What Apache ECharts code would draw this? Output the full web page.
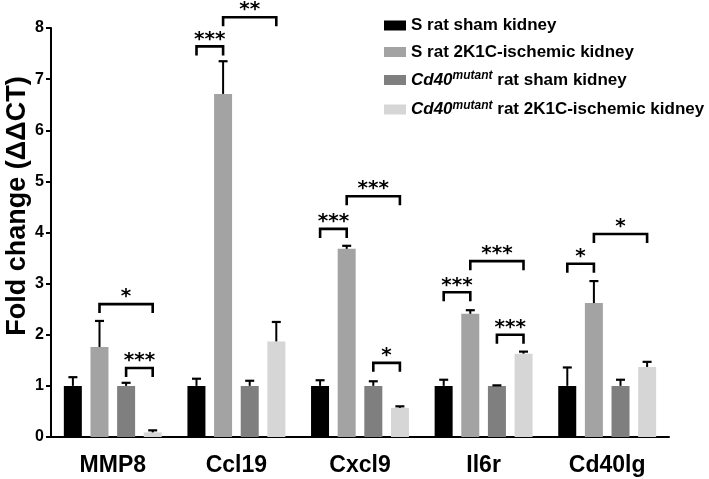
<!DOCTYPE html>
<html><head><meta charset="utf-8">
<script src="https://cdn.jsdelivr.net/npm/echarts@6/dist/echarts.min.js"></script>
<style>html,body{margin:0;padding:0;background:#fff}#c{width:709px;height:479px}</style>
</head><body><div id="c"></div>
<script>
// ---- data ----
const categories = ['MMP8', 'Ccl19', 'Cxcl9', 'Il6r', 'Cd40lg'];
const seriesNames = ['S rat sham kidney', 'S rat 2K1C-ischemic kidney', 'Cd40mutant rat sham kidney', 'Cd40mutant rat 2K1C-ischemic kidney'];
const shamS   = [1.00, 1.00, 1.00, 1.00, 1.00];
const ischS   = [1.76, 6.71, 3.68, 2.41, 2.62];
const shamMut = [1.00, 1.00, 1.00, 1.00, 1.00];
const ischMut = [0.09, 1.87, 0.57, 1.63, 1.37];
const errShamS   = [0.17, 0.14, 0.11, 0.12, 0.36];
const errIschS   = [0.51, 0.64, 0.06, 0.07, 0.43];
const errShamMut = [0.06, 0.10, 0.09, 0.01, 0.12];
const errIschMut = [0.04, 0.38, 0.03, 0.04, 0.10];
const yTickLabels = ['0', '1', '2', '3', '4', '5', '6', '7', '8'];
// significance brackets
const sigCategory = [0, 0, 1, 1, 2, 2, 2, 3, 3, 3, 4, 4];
const sigFrom     = [1, 2, 0, 1, 0, 1, 2, 0, 1, 2, 0, 1];
const sigTo       = [3, 3, 1, 3, 1, 3, 3, 1, 3, 3, 1, 3];
const sigHeight   = [2.60, 1.35, 7.64, 8.21, 4.07, 4.71, 1.45, 2.83, 3.44, 2.00, 3.39, 3.97];
const sigLabel    = ['*', '***', '***', '**', '***', '***', '*', '***', '***', '***', '*', '*'];

// ---- rendering ----
const values = [shamS, ischS, shamMut, ischMut];
const errors = [errShamS, errIschS, errShamMut, errIschMut];
const colors = ['#000000', '#a3a3a3', '#7f7f7f', '#d6d6d6'];
const BAR_W = 18, BAR_STEP = 26.6;
const FONT = '"Liberation Sans", Arial, sans-serif';

const barSeries = values.map((v, i) => ({
  type: 'bar', name: seriesNames[i], data: v, barWidth: BAR_W, barGap: '48%',
  itemStyle: { color: colors[i] }, z: 2
}));

const errData = [];
values.forEach((v, s) => v.forEach((val, c) => errData.push([c, val, errors[s][c], s])));

const errSeries = {
  type: 'custom', name: 'err', data: errData, z: 5, clip: false, silent: true,
  renderItem: (params, api) => {
    const c = api.value(0), v = api.value(1), e = api.value(2), s = api.value(3);
    const p0 = api.coord([c, v]);
    const p1 = api.coord([c, v + e]);
    const x = p0[0] + (s - 1.5) * BAR_STEP;
    return { type: 'group', children: [
      { type: 'line', shape: { x1: x, y1: p0[1], x2: x, y2: p1[1] }, style: { stroke: '#000', lineWidth: 2 } },
      { type: 'line', shape: { x1: x - 4.5, y1: p1[1], x2: x + 4.5, y2: p1[1] }, style: { stroke: '#000', lineWidth: 2.2 } }
    ]};
  }
};

const sigData = sigCategory.map((c, i) => [c, sigFrom[i], sigTo[i], sigHeight[i], i]);
const sigSeries = {
  type: 'custom', name: 'sig', data: sigData, z: 6, clip: false, silent: true,
  renderItem: (params, api) => {
    const c = api.value(0), f = api.value(1), t = api.value(2), h = api.value(3), idx = api.value(4);
    const p = api.coord([c, h]);
    const x1 = p[0] + (f - 1.5) * BAR_STEP;
    const x2 = p[0] + (t - 1.5) * BAR_STEP;
    const y = p[1], leg = 9;
    return { type: 'group', children: [
      { type: 'polyline', shape: { points: [[x1, y + leg], [x1, y], [x2, y], [x2, y + leg]] },
        style: { stroke: '#000', lineWidth: 2.6, fill: null } },
      { type: 'text', style: { text: sigLabel[idx], x: (x1 + x2) / 2, y: y + 3, align: 'center', verticalAlign: 'bottom',
        font: 'bold 20px "DejaVu Sans", sans-serif', fill: '#000' } }
    ]};
  }
};

const chart = echarts.init(document.getElementById('c'), null, { renderer: 'canvas' });
chart.setOption({
  animation: false,
  backgroundColor: '#fff',
  grid: { left: 51, right: 40, top: 28, bottom: 42, containLabel: false },
  legend: {
    data: seriesNames, orient: 'vertical', left: 379, top: 12,
    itemWidth: 22, itemHeight: 10, itemGap: 9.5, icon: 'rect',
    formatter: name => {
      if (name.indexOf('Cd40mutant') === 0) return '{i|Cd40}{s|mutant}{n|' + name.slice(10) + '}';
      return '{n|' + name + '}';
    },
    textStyle: {
      color: '#000', fontFamily: FONT, fontWeight: 'bold', fontSize: 17,
      rich: {
        n: { fontFamily: FONT, fontWeight: 'bold', fontSize: 17, lineHeight: 20, color: '#000' },
        i: { fontFamily: FONT, fontWeight: 'bold', fontStyle: 'italic', fontSize: 17, lineHeight: 20, color: '#000' },
        s: { fontFamily: FONT, fontWeight: 'bold', fontStyle: 'italic', fontSize: 12, lineHeight: 12, padding: [0, 0, 8, 0], color: '#000' }
      }
    }
  },
  xAxis: {
    type: 'category', data: categories,
    axisLine: { lineStyle: { color: '#000', width: 2 } },
    axisTick: { alignWithLabel: true, length: 6, lineStyle: { color: '#000', width: 2 } },
    axisLabel: { color: '#000', fontFamily: FONT, fontWeight: 'bold', fontSize: 23, margin: 17 }
  },
  yAxis: {
    type: 'value', min: 0, max: 8, interval: 1,
    axisLine: { show: true, lineStyle: { color: '#000', width: 2 } },
    axisTick: { show: true, length: 5, lineStyle: { color: '#000', width: 2 } },
    splitLine: { show: false },
    axisLabel: { color: '#000', fontFamily: FONT, fontWeight: 'bold', fontSize: 16, margin: 7,
      formatter: v => yTickLabels[Math.round(v)] }
  },
  graphic: [{
    type: 'text', rotation: Math.PI / 2, x: 18, y: 206,
    style: { text: 'Fold change (ΔΔCT)', font: 'bold 27px "Liberation Sans", Arial, sans-serif', fill: '#000',
      align: 'center', verticalAlign: 'middle' }
  }],
  series: [...barSeries, errSeries, sigSeries]
});
</script></body></html>
